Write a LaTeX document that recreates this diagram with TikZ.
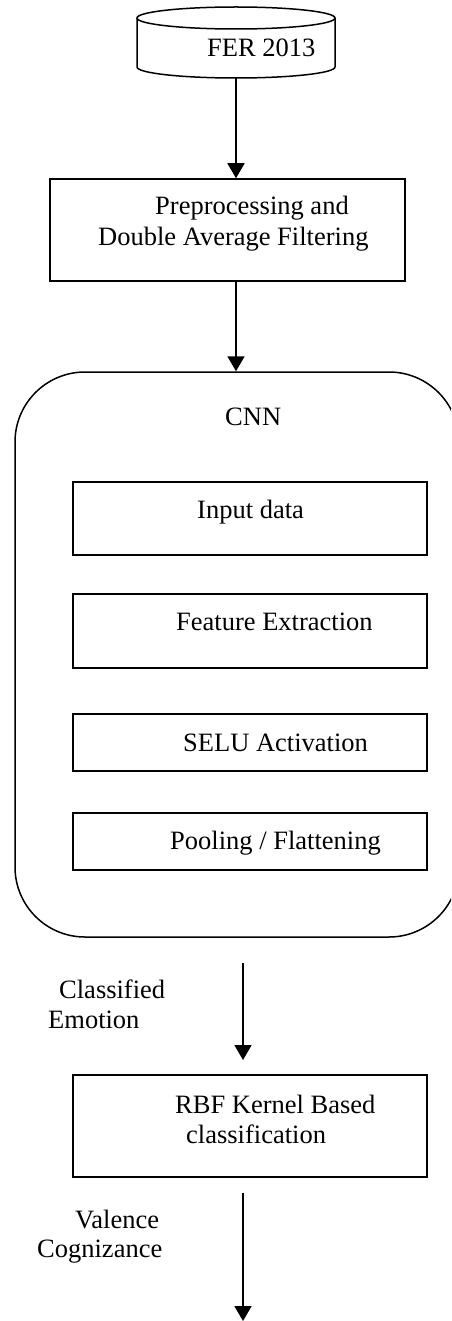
\documentclass[tikz,border=0pt]{standalone}
\usepackage{fontspec}
\setmainfont{Liberation Serif}
\usetikzlibrary{arrows.meta}
\begin{document}
\begin{tikzpicture}[x=1pt, y=-1pt,
  box/.style={draw, line width=1.5pt, inner sep=0pt},
  flow/.style={line width=1.8pt, -{Triangle[width=17pt, length=15pt]}},
  txt/.style={anchor=base west, inner sep=0pt, font=\fontsize{26.5}{30}\selectfont}]
\useasboundingbox (0,0) rectangle (451,1321);
\clip (0,0) rectangle (451,1321);
\fill[white] (0,0) rectangle (451,1321);

% database cylinder
\draw[line width=1.5pt] (137,18) -- (137,67)
  arc[start angle=180, end angle=360, x radius=99pt, y radius=11pt] -- (335,18);
\draw[line width=1.5pt] (236,18) ellipse[x radius=99pt, y radius=11pt];
\coordinate (db) at (236,78);
\node[txt] (tfer) at (207,57) {FER 2013};

% preprocessing
\node[box, minimum width=355pt, minimum height=102pt] (prep) at (227.5,230) {};
\node[txt] (tprep1) at (155,215) {Preprocessing and};
\node[txt] (tprep2) at (98,246) {Double Average Filtering};

% CNN block
\node[box, rounded corners=70pt, minimum width=444pt, minimum height=565pt] (cnn) at (237,654.5) {};
\node[txt] (tcnn) at (225,425) {CNN};

\node[box, minimum width=354pt, minimum height=73pt] (inp) at (250,518.5) {};
\node[txt] (tinp) at (197,518) {Input data};
\node[box, minimum width=354pt, minimum height=74pt] (feat) at (250,631) {};
\node[txt] (tfeat) at (176,630) {Feature Extraction};
\node[box, minimum width=354pt, minimum height=57pt] (selu) at (250,742.5) {};
\node[txt] (tselu) at (183,751) {SELU Activation};
\node[box, minimum width=354pt, minimum height=57pt] (pool) at (250,841.5) {};
\node[txt] (tpool) at (170,849) {Pooling / Flattening};

% RBF classifier
\node[box, minimum width=354pt, minimum height=102pt] (rbf) at (250,1126) {};
\node[txt] (trbf1) at (175,1113) {RBF Kernel Based};
\node[txt] (trbf2) at (186,1143) {classification};

% side labels
\node[txt] (tcl1) at (59,998) {Classified};
\node[txt] (tcl2) at (48,1028) {Emotion};
\node[txt] (tva1) at (75,1228) {Valence};
\node[txt] (tva2) at (37,1257) {Cognizance};

% connectors
\coordinate (c3a) at (243,963);
\coordinate (c3b) at (243,1060);
\coordinate (c4a) at (243,1193);
\coordinate (c4b) at (243,1321);
\draw[flow] (db) -- (prep.north -| db);
\draw[flow] (prep.south -| db) -- (cnn.north -| db);
\draw[flow] (c3a) -- (c3b);
\draw[flow] (c4a) -- (c4b);
\end{tikzpicture}
\end{document}
